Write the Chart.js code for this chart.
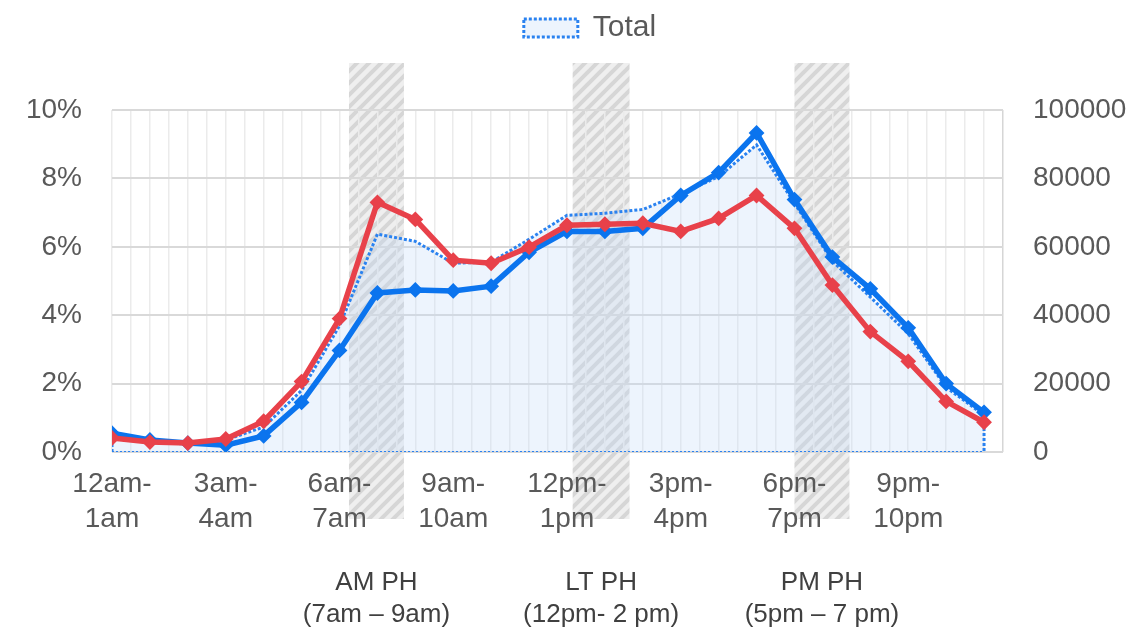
<!DOCTYPE html>
<html>
<head>
<meta charset="utf-8">
<script src="https://cdn.jsdelivr.net/npm/chart.js@4/dist/chart.umd.min.js"></script>
<style>
  html, body { margin: 0; padding: 0; background: #ffffff; }
  #wrap { width: 1139px; height: 632px; }
</style>
</head>
<body>
<div id="wrap"><canvas id="chart" width="1139" height="632"></canvas></div>
<script>
// Hour-of-day categories
const hourLabels = [
  '12am-1am', '1am-2am', '2am-3am', '3am-4am', '4am-5am', '5am-6am',
  '6am-7am', '7am-8am', '8am-9am', '9am-10am', '10am-11am', '11am-12pm',
  '12pm-1pm', '1pm-2pm', '2pm-3pm', '3pm-4pm', '4pm-5pm', '5pm-6pm',
  '6pm-7pm', '7pm-8pm', '8pm-9pm', '9pm-10pm', '10pm-11pm', '11pm-12am'
];

// Share of daily trips per hour (%), left axis
const blueShare = [0.55, 0.35, 0.26, 0.20, 0.47, 1.45, 2.97, 4.65, 4.74, 4.71, 4.85, 5.84,
                   6.45, 6.45, 6.54, 7.50, 8.17, 9.33, 7.38, 5.70, 4.77, 3.63, 2.00, 1.16];
const redShare  = [0.41, 0.29, 0.26, 0.38, 0.90, 2.06, 3.90, 7.30, 6.80, 5.61, 5.52, 5.99,
                   6.63, 6.66, 6.69, 6.45, 6.83, 7.50, 6.54, 4.88, 3.52, 2.65, 1.48, 0.87];

// Total trips per hour, right axis
const totalTrips = [4900, 3200, 2600, 3500, 7300, 18000, 36900, 63700, 61600, 55200, 55500, 62200,
                    69200, 69800, 70900, 75500, 80500, 89800, 72700, 55800, 45300, 34600, 18900, 10800];

// Axis ticks
const leftTicks = [0, 2, 4, 6, 8, 10];
const rightTicks = [0, 20000, 40000, 60000, 80000, 100000];

// Peak-hour windows (in hour-index units) and their captions
const peakStart = [6.25, 12.15, 18.0];
const peakEnd   = [7.70, 13.65, 19.45];
const peakNames = ['AM PH', 'LT PH', 'PM PH'];
const peakSpans = ['(7am \u2013 9am)', '(12pm- 2 pm)', '(5pm \u2013 7 pm)'];

const FONT = "'Liberation Sans', Arial, Helvetica, sans-serif";
const TEXT = '#595959';
const BLUE = '#0b74ee';
const RED = '#e8414a';

const lastIdx = hourLabels.length - 1;
const xMax = lastIdx + 0.5;

// Closed outline of the Total area: up from the baseline, along the values, back down
const totalPoints = [{ x: 0, y: 0 }]
  .concat(totalTrips.map((v, i) => ({ x: i, y: v })))
  .concat([{ x: lastIdx, y: 0 }]);
const baselinePoints = [{ x: 0, y: 0 }, { x: lastIdx, y: 0 }];

// Diagonal hatch used for the peak-hour bands
function makeHatch() {
  const s = 12;
  const c = document.createElement('canvas');
  c.width = s; c.height = s;
  const g = c.getContext('2d');
  g.fillStyle = '#efefef';
  g.fillRect(0, 0, s, s);
  g.strokeStyle = '#d6d6d6';
  g.lineWidth = 4;
  g.beginPath();
  g.moveTo(-3, 3); g.lineTo(3, -3);
  g.moveTo(0, s); g.lineTo(s, 0);
  g.moveTo(s - 3, s + 3); g.lineTo(s + 3, s - 3);
  g.stroke();
  return c;
}

const peakBands = {
  id: 'peakBands',
  beforeDraw(chart) {
    const { ctx, chartArea, scales } = chart;
    const xs = scales.x;
    const pattern = ctx.createPattern(makeHatch(), 'repeat');
    const top = chartArea.top - 47;
    const bottom = chartArea.bottom + 67;
    ctx.save();
    peakStart.forEach((s, i) => {
      const x1 = xs.getPixelForValue(s);
      const x2 = xs.getPixelForValue(peakEnd[i]);
      ctx.fillStyle = pattern;
      ctx.fillRect(x1, top, x2 - x1, bottom - top);
      const cx = (x1 + x2) / 2;
      ctx.fillStyle = '#404040';
      ctx.font = '26px ' + FONT;
      ctx.textAlign = 'center';
      ctx.textBaseline = 'middle';
      ctx.fillText(peakNames[i], cx, chartArea.bottom + 131);
      ctx.fillText(peakSpans[i], cx, chartArea.bottom + 163);
    });
    ctx.restore();
  }
};

const halfSteps = [];
for (let v = 0; v <= xMax + 1e-9; v += 0.5) halfSteps.push(v);

new Chart(document.getElementById('chart'), {
  type: 'line',
  data: {
    datasets: [
      {
        label: 'Total',
        yAxisID: 'y2',
        data: totalPoints,
        borderColor: '#2a82f0',
        borderWidth: 3,
        borderDash: [3, 2],
        backgroundColor: 'rgba(196, 220, 248, 0.3)',
        fill: 'origin',
        pointRadius: 0,
        tension: 0,
        order: 3
      },
      {
        label: 'baseline',
        yAxisID: 'y2',
        data: baselinePoints,
        borderColor: '#2a82f0',
        borderWidth: 2,
        borderDash: [2, 2],
        fill: false,
        pointRadius: 0,
        order: 2
      },
      {
        label: 'Blue',
        yAxisID: 'y',
        data: blueShare.map((v, i) => ({ x: i, y: v })),
        borderColor: BLUE,
        backgroundColor: BLUE,
        borderWidth: 5.5,
        pointStyle: 'rectRot',
        pointRadius: 6.5,
        pointBorderWidth: 2,
        pointBorderColor: BLUE,
        pointBackgroundColor: BLUE,
        fill: false,
        order: 1
      },
      {
        label: 'Red',
        yAxisID: 'y',
        data: redShare.map((v, i) => ({ x: i, y: v })),
        borderColor: RED,
        backgroundColor: RED,
        borderWidth: 5.5,
        pointStyle: 'rectRot',
        pointRadius: 6.5,
        pointBorderWidth: 2,
        pointBorderColor: RED,
        pointBackgroundColor: RED,
        fill: false,
        order: 0
      }
    ]
  },
  options: {
    responsive: false,
    devicePixelRatio: 1,
    animation: false,
    // the negative right padding shifts the centred legend to the right
    layout: { padding: { left: 0, right: -41, top: 0, bottom: 0 } },
    plugins: {
      tooltip: { enabled: false },
      title: {
        display: true,
        text: '',
        position: 'top',
        weight: 500,
        font: { size: 57, lineHeight: 1 },
        padding: 0
      },
      legend: {
        display: true,
        position: 'top',
        labels: {
          filter: item => item.text === 'Total',
          color: TEXT,
          font: { family: FONT, size: 30 },
          boxWidth: 54,
          boxHeight: 18,
          padding: 13
        }
      }
    },
    scales: {
      x: {
        type: 'linear',
        min: 0,
        max: xMax,
        afterBuildTicks: s => { s.ticks = halfSteps.map(v => ({ value: v })); },
        afterFit: s => { s.height = 180; },
        ticks: {
          autoSkip: false,
          maxRotation: 0,
          minRotation: 0,
          padding: 15,
          color: TEXT,
          font: { family: FONT, size: 28, lineHeight: 1.25 },
          callback: v => {
            if (Number.isInteger(v) && v % 3 === 0 && v <= lastIdx) {
              const parts = hourLabels[v].split('-');
              return [parts[0] + '-', parts[1]];
            }
            return '';
          }
        },
        grid: {
          drawTicks: false,
          lineWidth: 1.5,
          color: c => (c.tick && c.tick.value === xMax) ? '#d6d6d6' : '#ebebeb'
        },
        border: { display: false }
      },
      y: {
        position: 'left',
        min: 0,
        max: 10,
        afterBuildTicks: s => { s.ticks = leftTicks.map(v => ({ value: v })); },
        afterFit: s => { s.width = 112; },
        ticks: {
          padding: 30,
          color: TEXT,
          font: { family: FONT, size: 28 },
          callback: v => v + '%'
        },
        grid: { drawTicks: false, color: '#d9d9d9', lineWidth: 2 },
        border: { display: false }
      },
      y2: {
        position: 'right',
        min: 0,
        max: 100000,
        afterBuildTicks: s => { s.ticks = rightTicks.map(v => ({ value: v })); },
        afterFit: s => { s.width = 177; },
        ticks: {
          padding: 30,
          color: TEXT,
          font: { family: FONT, size: 28 },
          callback: v => String(v)
        },
        grid: { display: false, drawTicks: false },
        border: { display: false }
      }
    }
  },
  plugins: [peakBands]
});
</script>
</body>
</html>
